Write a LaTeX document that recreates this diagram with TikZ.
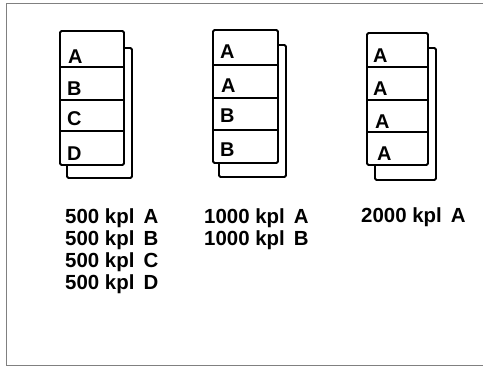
\documentclass[tikz,border=0pt]{standalone}
\usepackage{fontspec}
\setmainfont{Liberation Sans}
\newcommand{\gapsp}{\ \hspace{3.5bp}}
\begin{document}
\begin{tikzpicture}[x=1bp,y=-1bp,
  sheet/.style={line width=1.8bp, rounded corners=1.5bp},
  lbl/.style={anchor=base west, inner sep=0pt, font=\fontsize{20}{22}\selectfont\bfseries},
  txt/.style={anchor=base west, inner sep=0pt, font=\fontsize{20.5}{22}\selectfont\bfseries},
  frame/.style={draw=black!50, line width=0.9bp}]
\useasboundingbox (0,0) rectangle (483,366);
\draw[frame] (490,3) -- (6,3) -- (6,365) -- (490,365);

% Sheet 1
\draw[sheet] (124,48) -- (132,48) -- (132,178) -- (67,178) -- (67,165);
\draw[sheet] (60,31) rectangle (124,165);
\draw[sheet] (60,67) -- (124,67) (60,100) -- (124,100) (60,131) -- (124,131);
\node[lbl] (s1a) at (68,63) {A};
\node[lbl] (s1b) at (67,95) {B};
\node[lbl] (s1c) at (67,125) {C};
\node[lbl] (s1d) at (67,160) {D};

% Sheet 2
\draw[sheet] (278,45) -- (286,45) -- (286,177) -- (219,177) -- (219,163);
\draw[sheet] (213,30) rectangle (278,163);
\draw[sheet] (213,65) -- (278,65) (213,98) -- (278,98) (213,130) -- (278,130);
\node[lbl] (s2a) at (220,58) {A};
\node[lbl] (s2b) at (221,92) {A};
\node[lbl] (s2c) at (220,122) {B};
\node[lbl] (s2d) at (220,156) {B};

% Sheet 3
\draw[sheet] (428,48) -- (436,48) -- (436,180) -- (375,180) -- (375,165);
\draw[sheet] (367,33) rectangle (428,165);
\draw[sheet] (367,67) -- (428,67) (367,100) -- (428,100) (367,132) -- (428,132);
\node[lbl] (s3a) at (373,62) {A};
\node[lbl] (s3b) at (373,95) {A};
\node[lbl] (s3c) at (375,128) {A};
\node[lbl] (s3d) at (377,160) {A};

% Texts
\node[txt] (t1a) at (65,223) {500 kpl\gapsp A};
\node[txt] (t1b) at (65,245) {500 kpl\gapsp B};
\node[txt] (t1c) at (65,267) {500 kpl\gapsp C};
\node[txt] (t1d) at (65,289) {500 kpl\gapsp D};
\node[txt] (t2a) at (204,223) {1000 kpl\gapsp A};
\node[txt] (t2b) at (204,245) {1000 kpl\gapsp B};
\node[txt] (t3a) at (361,222) {2000 kpl\gapsp A};
\end{tikzpicture}
\end{document}
